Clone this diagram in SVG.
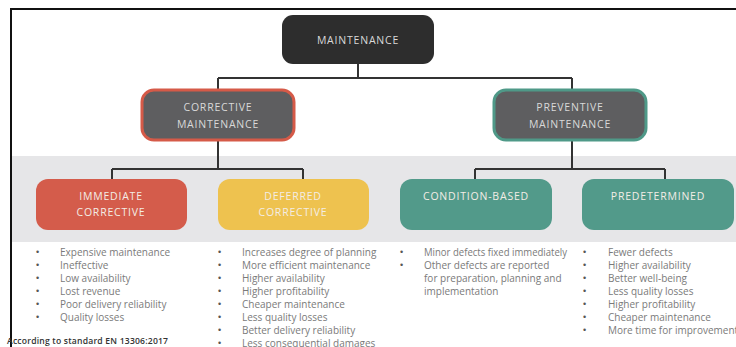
<svg xmlns="http://www.w3.org/2000/svg" width="736" height="347" viewBox="0 0 736 347">
  <style>
    .node-text { font-family: "Open Sans", "Liberation Sans", sans-serif; font-size: 10.5px; letter-spacing: 0.8px; text-anchor: middle; }
    .light { fill: #d9d9d9; }
    .pale { fill: #f3ede6; }
    .item { font-family: "Open Sans", "Liberation Sans", sans-serif; font-size: 10px; fill: #7a7a7a; }
    .bullet { font-family: "Liberation Sans", sans-serif; font-size: 9px; fill: #555; }
    .wire { fill: none; stroke: #333; stroke-width: 2; }
    .note { font-family: "Open Sans", "Liberation Sans", sans-serif; font-size: 8.6px; font-weight: 600; letter-spacing: 0.2px; fill: #333; }
  </style>

  <rect x="0" y="0" width="736" height="347" fill="#ffffff"/>
  <!-- lower band behind the second level -->
  <rect x="12" y="156" width="724" height="86" fill="#e6e6e8"/>

  <!-- frame lines -->
  <line x1="10" y1="9" x2="736" y2="9" stroke="#111" stroke-width="2"/>
  <line x1="11" y1="8" x2="11" y2="347" stroke="#111" stroke-width="2"/>

  <g id="connectors">
    <path class="wire" d="M358 64 V78 M218 78 H572 M218 78 V90 M572 78 V90"/>
    <path class="wire" d="M218 141 V169 M112 169 H303 M112 169 V180 M303 169 V180"/>
    <path class="wire" d="M572 141 V169 M475 169 H665 M475 169 V180 M665 169 V180"/>
  </g>

  <g id="maintenance">
    <rect x="282" y="15" width="152" height="49" rx="11" fill="#2d2d2d"/>
    <text class="node-text light" x="358" y="44">MAINTENANCE</text>
  </g>

  <g id="corrective">
    <rect x="142" y="90" width="152" height="50" rx="12" fill="#5e5e60" stroke="#d55a48" stroke-width="3"/>
    <text class="node-text light" x="218" y="111">CORRECTIVE</text>
    <text class="node-text light" x="218" y="128">MAINTENANCE</text>
  </g>

  <g id="preventive">
    <rect x="494" y="90" width="152" height="50" rx="12" fill="#5e5e60" stroke="#4f9988" stroke-width="3"/>
    <text class="node-text light" x="570" y="111">PREVENTIVE</text>
    <text class="node-text light" x="570" y="128">MAINTENANCE</text>
  </g>

  <g id="immediate">
    <rect x="36" y="179" width="151" height="51" rx="12" fill="#d45c4b"/>
    <text class="node-text pale" x="111" y="200">IMMEDIATE</text>
    <text class="node-text pale" x="111" y="216">CORRECTIVE</text>
  </g>

  <g id="deferred">
    <rect x="218" y="179" width="151" height="51" rx="12" fill="#eec24f"/>
    <text class="node-text pale" x="293" y="200">DEFERRED</text>
    <text class="node-text pale" x="293" y="216">CORRECTIVE</text>
  </g>

  <g id="condition-based">
    <rect x="400" y="179" width="152" height="51" rx="12" fill="#529a8a"/>
    <text class="node-text pale" x="476" y="200">CONDITION-BASED</text>
  </g>

  <g id="predetermined">
    <rect x="582" y="179" width="152" height="51" rx="12" fill="#529a8a"/>
    <text class="node-text pale" x="658" y="200">PREDETERMINED</text>
  </g>

  <!-- consequence lists -->
  <g id="immediate-list">
    <text class="bullet" x="36" y="255">•</text><text class="item" x="60" y="256">Expensive maintenance</text>
    <text class="bullet" x="36" y="268">•</text><text class="item" x="60" y="269">Ineffective</text>
    <text class="bullet" x="36" y="281">•</text><text class="item" x="60" y="282">Low availability</text>
    <text class="bullet" x="36" y="294">•</text><text class="item" x="60" y="295">Lost revenue</text>
    <text class="bullet" x="36" y="307">•</text><text class="item" x="60" y="308">Poor delivery reliability</text>
    <text class="bullet" x="36" y="320">•</text><text class="item" x="60" y="321">Quality losses</text>
  </g>

  <g id="deferred-list">
    <text class="bullet" x="218" y="255">•</text><text class="item" x="242" y="256">Increases degree of planning</text>
    <text class="bullet" x="218" y="268">•</text><text class="item" x="242" y="269">More efficient maintenance</text>
    <text class="bullet" x="218" y="281">•</text><text class="item" x="242" y="282">Higher availability</text>
    <text class="bullet" x="218" y="294">•</text><text class="item" x="242" y="295">Higher profitability</text>
    <text class="bullet" x="218" y="307">•</text><text class="item" x="242" y="308">Cheaper maintenance</text>
    <text class="bullet" x="218" y="320">•</text><text class="item" x="242" y="321">Less quality losses</text>
    <text class="bullet" x="218" y="333">•</text><text class="item" x="242" y="334">Better delivery reliability</text>
    <text class="bullet" x="218" y="346">•</text><text class="item" x="242" y="347">Less consequential damages</text>
  </g>

  <g id="condition-list">
    <text class="bullet" x="400" y="255">•</text><text class="item" x="424" y="256" textLength="143" lengthAdjust="spacingAndGlyphs">Minor defects fixed immediately</text>
    <text class="bullet" x="400" y="268">•</text><text class="item" x="424" y="269">Other defects are reported</text>
    <text class="item" x="424" y="282">for preparation, planning and</text>
    <text class="item" x="424" y="295">implementation</text>
  </g>

  <g id="predetermined-list">
    <text class="bullet" x="583" y="255">•</text><text class="item" x="608" y="256">Fewer defects</text>
    <text class="bullet" x="583" y="268">•</text><text class="item" x="608" y="269">Higher availability</text>
    <text class="bullet" x="583" y="281">•</text><text class="item" x="608" y="282">Better well-being</text>
    <text class="bullet" x="583" y="294">•</text><text class="item" x="608" y="295">Less quality losses</text>
    <text class="bullet" x="583" y="307">•</text><text class="item" x="608" y="308">Higher profitability</text>
    <text class="bullet" x="583" y="320">•</text><text class="item" x="608" y="321">Cheaper maintenance</text>
    <text class="bullet" x="583" y="333">•</text><text class="item" x="608" y="334">More time for improvement</text>
  </g>

  <text class="note" x="7" y="344">According to standard EN 13306:2017</text>
</svg>
